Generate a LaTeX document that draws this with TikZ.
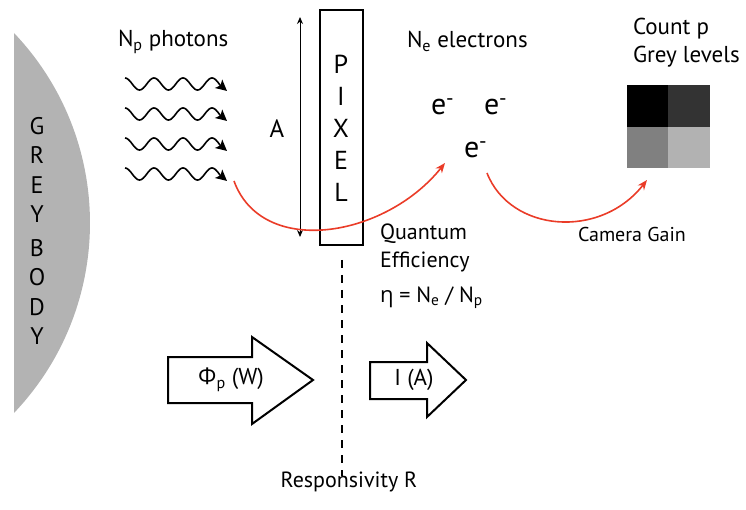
\documentclass[tikz,border=0pt]{standalone}
\usepackage{fontspec}
\setmainfont{PT Sans}
\newfontfamily\greekfont{Open Sans}
\usetikzlibrary{arrows.meta}
\definecolor{arcred}{RGB}{234,60,40}
\definecolor{bodygrey}{RGB}{179,179,179}
\newcommand{\fsize}[2]{\fontsize{#1}{#2}\selectfont}

\begin{document}
\begin{tikzpicture}[x=1pt, y=-1pt,
    every node/.style={inner sep=0pt, outer sep=0pt},
    photon/.style={line width=1.6pt, -{Stealth[length=11pt,width=11pt,inset=2.5pt]}},
    gain/.style={arcred, line width=1.6pt, -{Stealth[length=10pt,width=8pt]}},
    flow/.style={draw, line width=2pt, line join=miter},
    cell/.style={minimum size=41.5pt}
]
\useasboundingbox (0,0) rectangle (746,510);

% grey body
\fill[bodygrey] (14,33) arc[start angle=-43.6, end angle=43.6, radius=275.5] -- cycle;
\node[align=center, font=\fsize{24}{29.5}] (body) at (37,231)
    {G\\R\\E\\Y\\[4pt]B\\O\\D\\Y};

% photons
\node[anchor=base west, font=\fsize{23}{27}] (photons) at (118,47) {N\textsubscript{p} photons};
\foreach \y [count=\i] in {84,114,144,174}
    \draw[photon] plot[domain=0:95, samples=100] ({125+\x},{\y-6*cos((\x/29)*360)}) -- ++(7,6);
\coordinate (pstart) at (234,181);

% pixel
\node[draw, line width=2.5pt, minimum width=43pt, minimum height=235pt] (pixel) at (341.5,127.5) {};
\node[align=center, font=\fsize{26}{32}] (pixtext) at (341,128) {P\\I\\X\\E\\L};
\coordinate (atop) at (300,17);
\coordinate (abot) at (300,237);
\draw[{Stealth[length=7pt,width=6pt]}-{Stealth[length=7pt,width=6pt]}, line width=1pt] (atop) -- (abot);
\node[font=\fsize{25}{30}] (area) at (277,129) {A};
\draw[line width=2pt, dash pattern=on 8pt off 7pt] (342,260) -- (342,476);

% electrons
\node[anchor=base west, font=\fsize{23}{27}] (electrons) at (407,48) {N\textsubscript{e} electrons};
\node[anchor=base west, font=\fsize{30}{30}] (e1) at (431,115) {e\textsuperscript{-}};
\node[anchor=base west, font=\fsize{30}{30}] (e2) at (484,115) {e\textsuperscript{-}};
\node[anchor=base west, font=\fsize{30}{30}] (e3) at (464,158) {e\textsuperscript{-}};
\coordinate (eend) at (445,163);
\coordinate (estart) at (487,173);

\draw[gain] (pstart) .. controls (262,258) and (385,238) .. (eend);

\node[anchor=base west, font=\fsize{22}{26}] (qe1) at (380,240) {Quantum};
\node[anchor=base west, font=\fsize{22}{26}] (qe2) at (380,268) {Efficiency};
\node[anchor=base west, font=\fsize{22}{26}] (eta) at (380,302)
    {{\greekfont η} = N\textsubscript{e} / N\textsubscript{p}};

% grey levels
\node[anchor=base west, font=\fsize{23}{27}] (count) at (633,35) {Count p};
\node[anchor=base west, font=\fsize{23}{27}] (levels) at (633,63) {Grey levels};
\node[cell, fill=black] (c11) at (647.5,106) {};
\node[cell, fill=black!80] (c12) at (689,106) {};
\node[cell, fill=black!50] (c21) at (647.5,147.5) {};
\node[cell, fill=black!30] (c22) at (689,147.5) {};
\coordinate (gend) at (647,180);

\draw[gain] (estart) .. controls (510,232) and (600,240) .. (gend);
\node[anchor=base west, font=\fsize{20}{24}] (camgain) at (578,242) {Camera Gain};

% power and current
\draw[flow] (168,357) -- (252,357) -- (252,337) -- (313,380) -- (252,424) -- (252,403) -- (168,403) -- cycle;
\node[font=\fsize{23}{27}] (flux) at (231,380) {{\greekfont Φ}\textsubscript{p} (W)};
\draw[flow] (370,362) -- (427,362) -- (427,343) -- (466,380) -- (427,417) -- (427,399) -- (370,399) -- cycle;
\node[font=\fsize{23}{27}] (current) at (414,380) {I (A)};
\node[anchor=base, font=\fsize{22}{26}] (resp) at (349,487) {Responsivity R};
\end{tikzpicture}
\end{document}
